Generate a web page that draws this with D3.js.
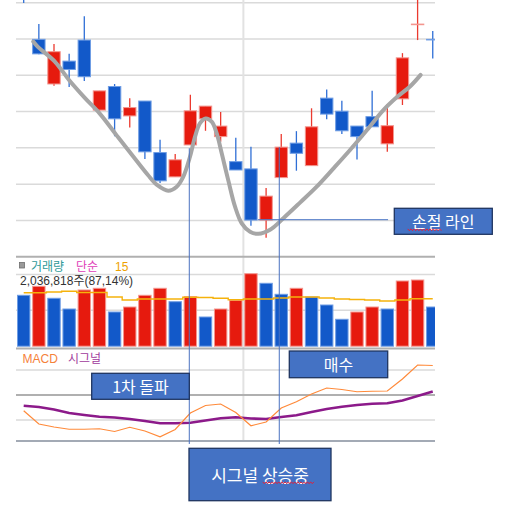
<!DOCTYPE html>
<html>
<head>
<meta charset="utf-8">
<script src="https://cdn.jsdelivr.net/npm/d3@7"></script>
<style>
body { margin: 0; background: #fff; }
svg { display: block; font-family: "Noto Sans CJK KR", "Noto Sans", sans-serif; }
</style>
</head>
<body>
<div id="chart"></div>
<script>
// daily candles (won)
var opens  = [10060, 9899, 9776, 9839, 9897, 9704, 9769, 9688, 9729, 9587, 9520, 9608, 9680, 9631, 9562, 9542, 9401, 9518, 9613, 9551, 9737, 9701, 9660, 9686, 9611, 9735, 9941, 9899];
var highs  = [10080, 9941, 9886, 9859, 9963, 9757, 9776, 9737, 9729, 9622, 9583, 9746, 9715, 9699, 9628, 9603, 9489, 9638, 9646, 9709, 9761, 9730, 9660, 9757, 9721, 9861, 10010, 9922];
var lows   = [9999, 9858, 9771, 9768, 9784, 9700, 9632, 9656, 9569, 9503, 9520, 9608, 9647, 9617, 9539, 9385, 9352, 9518, 9537, 9551, 9679, 9638, 9568, 9658, 9589, 9718, 9897, 9846];
var closes = [10020, 9859, 9865, 9816, 9796, 9757, 9680, 9711, 9589, 9509, 9567, 9702, 9715, 9660, 9539, 9401, 9467, 9602, 9585, 9658, 9693, 9647, 9631, 9658, 9661, 9848, 9941, 9899];

// volume (thousand shares) and 15-day simple average
var volumes  = [2836, 3337, 2669, 2072, 3131, 3226, 1905, 2184, 2836, 3226, 2479, 2758, 1627, 2072, 2557, 4039, 3504, 2891, 3226, 2741, 2295, 1499, 1905, 2184, 2072, 3632, 3688, 2184];
var volumeMA = [2981, 2981, 3019, 3058, 2992, 2992, 2741, 2574, 2630, 2630, 2630, 2724, 2713, 2669, 2591, 2630, 2630, 2685, 2741, 2741, 2685, 2630, 2602, 2574, 2518, 2574, 2646, 2646];

// MACD / signal
var macd   = [-63, -116, -128, -137, -137, -135, -146, -129, -144, -167, -138, -72, -42, -36, -70, -123, -108, -52, -27, 4, 28, 22, 13, 15, 16, 64, 120, 118];
var signal = [-43, -48, -58, -72, -80, -87, -90, -96, -104, -113, -113, -111, -102, -93, -89, -94, -96, -88, -81, -68, -56, -47, -40, -35, -33, -22, -4, 14];

var priceTicks = [9300, 9400, 9500, 9600, 9700, 9800, 9900, 10000];
var volumeTicks = [2000, 4000];
var macdTicks = [-100, 100];

// hand drawn pattern line (index, price)
var trendIdx   = [0.63, 0.92, 2.07, 2.99, 4.05, 5.05, 6.16, 7.23, 8.2, 8.8, 9.54, 10.1, 10.53, 10.98, 11.31, 11.64, 12.01, 12.41, 12.74, 13.07, 13.5, 13.95, 14.39, 14.94, 15.49, 16.26, 17.14, 18.24, 19.34, 20.42, 21.54, 22.66, 23.74, 24.64, 25.5, 26.2];
var trendPrice = [9893, 9879, 9837, 9787, 9737, 9693, 9633, 9576, 9525, 9498, 9482, 9493, 9520, 9576, 9631, 9668, 9681, 9672, 9640, 9585, 9511, 9438, 9392, 9369, 9363, 9374, 9406, 9449, 9493, 9542, 9594, 9649, 9704, 9740, 9769, 9801];

var stopLoss = 9402;
var stopFrom = 15.47, stopTo = 24.05;
var markerIdx = [10.93, 16.87];
var markerTop = [9599, 9602];
var monthSplit = 14.5;

var RED = "#e61a0e", BLUE = "#1259c9";
var RED_EDGE = "#f3968f", BLUE_EDGE = "#6f9de4";

var width = 510, height = 532;
var left = 16, right = 435;

var svg = d3.select("#chart").append("svg")
    .attr("width", width)
    .attr("height", height);

svg.append("rect").attr("width", width).attr("height", height).attr("fill", "#fff");

svg.append("defs").append("clipPath").attr("id", "plot")
    .append("rect").attr("x", left).attr("y", 0).attr("width", right - left).attr("height", 441);

var x = d3.scaleLinear().domain([0, 27]).range([23.7, 432.75]);
var yPrice = d3.scaleLinear().domain([9300, 10000]).range([256.7, 2.7]);
var yVol = d3.scaleLinear().domain([0, 5000]).range([346.2, 256.45]);
var yMacd = d3.scaleLinear().domain([-100, 100]).range([420, 370]);

var idx = d3.range(opens.length);

// grid
var grid = svg.append("g");
grid.selectAll(".pg").data(priceTicks.slice(1)).enter().append("line")
    .attr("x1", left).attr("x2", right)
    .attr("y1", d => yPrice(d)).attr("y2", d => yPrice(d))
    .attr("stroke", "#dadada").attr("stroke-width", 1.5);
grid.selectAll(".vg").data(volumeTicks).enter().append("line")
    .attr("x1", left).attr("x2", right)
    .attr("y1", d => yVol(d)).attr("y2", d => yVol(d))
    .attr("stroke", "#dadada").attr("stroke-width", 1.5);
grid.selectAll(".mg").data(macdTicks).enter().append("line")
    .attr("x1", left).attr("x2", right)
    .attr("y1", d => yMacd(d)).attr("y2", d => yMacd(d))
    .attr("stroke", "#dadada").attr("stroke-width", 1.5);
grid.append("line")
    .attr("x1", x(monthSplit)).attr("x2", x(monthSplit))
    .attr("y1", 0).attr("y2", 441)
    .attr("stroke", "#e2e2e2").attr("stroke-width", 2);

// panel borders
var borders = [yPrice(priceTicks[0]), 348.5, yMacd(0), 441];
svg.selectAll(".border").data(borders).enter().append("line")
    .attr("x1", left).attr("x2", right)
    .attr("y1", d => d).attr("y2", d => d)
    .attr("stroke", (d, i) => i == 3 ? "#a3aab5" : "#b0b0b0")
    .attr("stroke-width", 2);

var plot = svg.append("g").attr("clip-path", "url(#plot)");

function candleUp(i) {
    if (closes[i] != opens[i]) return closes[i] > opens[i];
    return i > 0 && closes[i] >= closes[i - 1];
}

// candles
var candles = plot.append("g").selectAll("g").data(idx).enter().append("g");
candles.append("line")
    .attr("x1", i => x(i)).attr("x2", i => x(i))
    .attr("y1", i => yPrice(highs[i])).attr("y2", i => yPrice(lows[i]))
    .attr("stroke", i => candleUp(i) ? "#eb3a2f" : "#2f6fd6")
    .attr("stroke-width", 1.3);
candles.append("rect")
    .attr("x", i => x(i) - 6.2)
    .attr("width", 12.4)
    .attr("y", i => yPrice(Math.max(opens[i], closes[i])))
    .attr("height", i => Math.max(0.6, Math.abs(yPrice(opens[i]) - yPrice(closes[i]))))
    .attr("fill", i => candleUp(i) ? RED : BLUE)
    .attr("stroke", i => candleUp(i) ? RED_EDGE : BLUE_EDGE)
    .attr("stroke-width", 1);

// pattern curve
plot.append("path")
    .attr("d", d3.line().curve(d3.curveCatmullRom)
        .x((d, i) => x(trendIdx[i])).y((d, i) => yPrice(trendPrice[i]))(trendIdx))
    .attr("fill", "none")
    .attr("stroke", "#a6a6a6")
    .attr("stroke-width", 4)
    .attr("stroke-linecap", "round");

// stop loss line
plot.append("line")
    .attr("x1", x(stopFrom)).attr("x2", x(stopTo))
    .attr("y1", yPrice(stopLoss)).attr("y2", yPrice(stopLoss))
    .attr("stroke", "#4a76c6").attr("stroke-width", 1);

// volume
plot.append("g").selectAll("rect").data(idx).enter().append("rect")
    .attr("x", i => x(i) - 6.2)
    .attr("width", 12.4)
    .attr("y", i => yVol(volumes[i]))
    .attr("height", i => yVol(0) - yVol(volumes[i]))
    .attr("fill", i => (i > 0 && volumes[i] > volumes[i - 1]) ? RED : BLUE)
    .attr("stroke", i => (i > 0 && volumes[i] > volumes[i - 1]) ? RED_EDGE : BLUE_EDGE)
    .attr("stroke-width", 1);

plot.append("path")
    .attr("d", d3.line().curve(d3.curveStep).x(i => x(i)).y(i => yVol(volumeMA[i]))(idx))
    .attr("fill", "none")
    .attr("stroke", "#f5b20c")
    .attr("stroke-width", 1.4);

// macd
plot.append("path")
    .attr("d", d3.line().x(i => x(i)).y(i => yMacd(signal[i]))(idx))
    .attr("fill", "none")
    .attr("stroke", "#8c1a8a")
    .attr("stroke-width", 2.6);
plot.append("path")
    .attr("d", d3.line().x(i => x(i)).y(i => yMacd(macd[i]))(idx))
    .attr("fill", "none")
    .attr("stroke", "#ff8a3a")
    .attr("stroke-width", 1.2);

// legends (latin primary font keeps the two rows from colliding)
var leg = svg.append("g").attr("font-size", 12)
    .attr("font-family", '"Liberation Sans", "Noto Sans CJK KR", sans-serif');
leg.append("rect").attr("x", 19.5).attr("y", 262.5).attr("width", 5).attr("height", 5.5)
    .attr("fill", "#9a9a9a").attr("stroke", "#6e6e6e").attr("stroke-width", 0.8);
leg.append("text").attr("x", 31).attr("y", 270.5).attr("fill", "#2e9a98").text("거래량");
leg.append("text").attr("x", 76).attr("y", 270.5).attr("fill", "#e03cb8").text("단순");
leg.append("text").attr("x", 115).attr("y", 270.5).attr("fill", "#eda100").text("15");
leg.append("text").attr("x", 20).attr("y", 284.5).attr("fill", "#333").text("2,036,818주(87,14%)");
leg.append("text").attr("x", 22.5).attr("y", 363).attr("fill", "#f5823a").text("MACD");
leg.append("text").attr("x", 68).attr("y", 363).attr("fill", "#a03a9c").text("시그널");

// signal markers
svg.selectAll(".marker").data(markerIdx).enter().append("line")
    .attr("x1", d => x(d)).attr("x2", d => x(d))
    .attr("y1", (d, i) => yPrice(markerTop[i])).attr("y2", 444)
    .attr("stroke", "#4a72c0").attr("stroke-width", 1);

// callout boxes
var notes = [
    {t: "손절 라인", x: 394.3, y: 208.3, w: 98, h: 26, fs: 16},
    {t: "1차 돌파", x: 91.7, y: 373.3, w: 97.6, h: 26, fs: 16},
    {t: "매수", x: 289.3, y: 351, w: 98.4, h: 26.7, fs: 16},
    {t: "시그널 상승중", x: 189, y: 448.3, w: 142, h: 52.4, fs: 17}
];
var box = svg.selectAll(".note").data(notes).enter().append("g");
box.append("rect")
    .attr("x", d => d.x).attr("y", d => d.y)
    .attr("width", d => d.w).attr("height", d => d.h)
    .attr("fill", "#4472c4").attr("stroke", "#1f3560").attr("stroke-width", 1.3);
box.append("text")
    .attr("x", d => d.x + d.w / 2).attr("y", d => d.y + d.h / 2)
    .attr("text-anchor", "middle")
    .attr("dominant-baseline", "central")
    .attr("font-size", d => d.fs)
    .attr("fill", "#fff")
    .text(d => d.t);

// spell-check squiggles
function squiggle(x0, x1, y) {
    var pts = [];
    for (var i = 0; x0 + i * 1.6 <= x1; i++) pts.push([x0 + i * 1.6, y + (i % 2 ? 0.9 : -0.9)]);
    return d3.line()(pts);
}
[[407.7, 442.7, 229.8], [262.7, 315, 482.8]].forEach(s => {
    svg.append("path").attr("d", squiggle(s[0], s[1], s[2]))
        .attr("fill", "none").attr("stroke", "#e0203a").attr("stroke-width", 1);
});
</script>
</body>
</html>
